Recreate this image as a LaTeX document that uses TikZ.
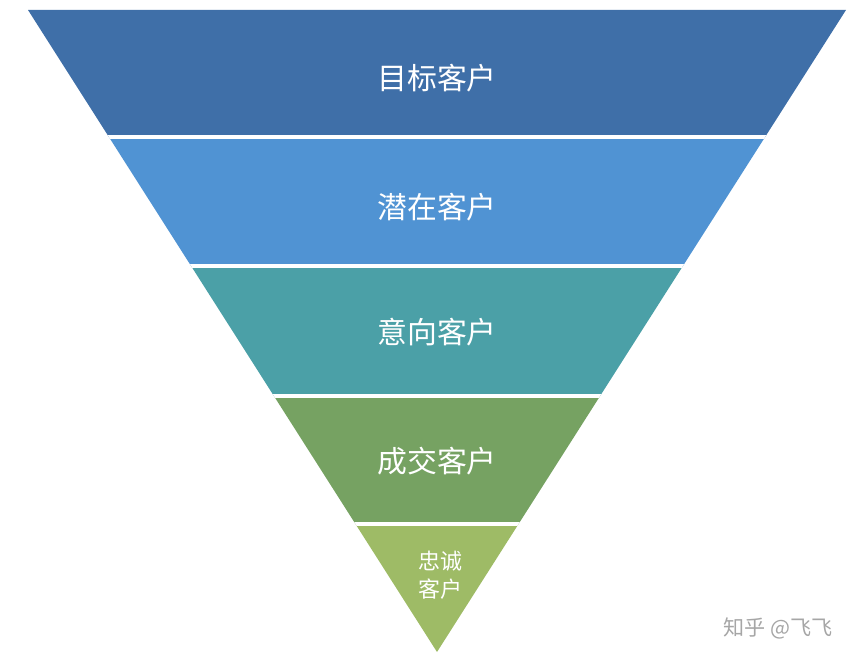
\documentclass[tikz,border=0pt]{standalone}
\usepackage{fontspec}
\newfontfamily\cjk{Noto Sans CJK SC}
\definecolor{bandA}{HTML}{3F6FA8}
\definecolor{bandB}{HTML}{5093D3}
\definecolor{bandC}{HTML}{4BA0A7}
\definecolor{bandD}{HTML}{76A262}
\definecolor{bandE}{HTML}{9EBB66}
\tikzset{
  label/.style={text=white, font=\cjk\fontsize{17}{20}\selectfont},
  gap/.style={draw=white, line width=0.08cm}
}
\begin{document}
\begin{tikzpicture}[x=0.02cm, y=-0.02cm]
    \useasboundingbox (0,0) rectangle (868,662);
    % funnel
    \begin{scope}
        \clip (28,10) -- (846,10) -- (437,652) -- cycle;
        \fill[bandA] (0,0) rectangle (868,137);
        \fill[bandB] (0,137) rectangle (868,266);
        \fill[bandC] (0,266) rectangle (868,396);
        \fill[bandD] (0,396) rectangle (868,524);
        \fill[bandE] (0,524) rectangle (868,662);
        \foreach \y in {137,266,396,524}
            \draw[gap] (0,\y) -- (868,\y);
    \end{scope}
    % labels
    \node[label] (target) at (437,78) {目标客户};
    \node[label] (potential) at (437,207) {潜在客户};
    \node[label] (intent) at (437,332) {意向客户};
    \node[label] (deal) at (437,461) {成交客户};
    \node[label, font=\cjk\fontsize{12.5}{16}\selectfont, align=center] (loyal) at (440,575) {忠诚\\客户};
    \node[text=gray!70, font=\cjk\fontsize{12}{14}\selectfont] (mark) at (778,628) {知乎 @飞飞};
\end{tikzpicture}
\end{document}
